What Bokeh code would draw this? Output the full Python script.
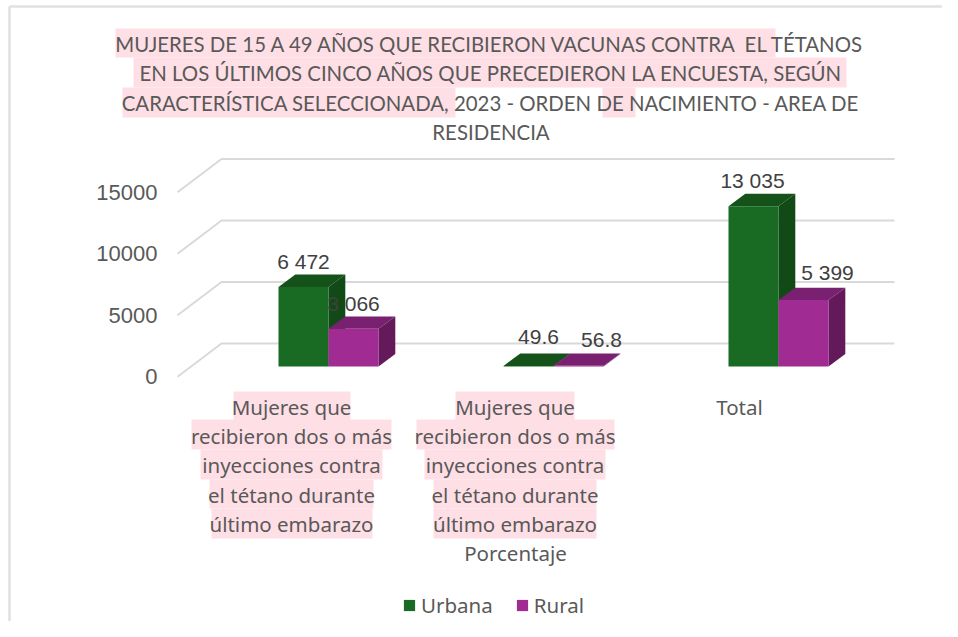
from bokeh.plotting import figure
from bokeh.embed import file_html
from bokeh.resources import INLINE
from bokeh.core.properties import value
from bokeh.models import Legend, LegendItem, LinearAxis, Range1d, FixedTicker

# ---- chart data
categories = ["Mujeres que recibieron dos o más inyecciones (casos)",
              "Mujeres que recibieron dos o más inyecciones (porcentaje)", "Total"]
urbana = [6472, 49.6, 13035]
rural = [3066, 56.8, 5399]
urbana_labels = ["6 472", "49.6", "13 035"]
rural_labels = ["3 066", "56.8", "5 399"]
y_ticks = [0, 5000, 10000, 15000]
title_lines = ["MUJERES DE 15 A 49 AÑOS QUE RECIBIERON VACUNAS CONTRA \u00a0EL TÉTANOS",
               "EN LOS ÚLTIMOS CINCO AÑOS QUE PRECEDIERON LA ENCUESTA, SEGÚN",
               "CARACTERÍSTICA SELECCIONADA, 2023 - ORDEN DE NACIMIENTO - AREA DE",
               "RESIDENCIA"]
cat_lines = ["Mujeres que", "recibieron dos o más", "inyecciones contra",
             "el tétano durante", "último embarazo"]

# ---- page geometry (layout only)
W, H = 942, 621
PX_PER_CAT, PX_PER_UNIT = 225.0, 0.0123
def X(px): return (px - 328.0) / PX_PER_CAT
def Y(py): return (366.0 - py) / PX_PER_UNIT
DX, DY = 16.8 / PX_PER_CAT, 12.4 / PX_PER_UNIT     # bar depth
BAR = 50.0 / PX_PER_CAT
GRID_Y = 23.0 / PX_PER_UNIT                        # back wall above bar floor
WALL_Y = -10.3 / PX_PER_UNIT                       # front edge below bar floor

GREEN, GREEN_TOP, GREEN_SIDE = "#196B24", "#145219", "#114A16"
PURPLE, PURPLE_TOP, PURPLE_SIDE = "#A02B93", "#7A2070", "#64195B"
GRID = "#D9D9D9"; TEXT = "#595959"; LABEL = "#404040"; PINK = "#FFDFE6"
SANS = "Noto Sans"; NARROW = "Lato"; ARIAL = "Liberation Sans"

p = figure(width=W, height=H, output_backend="svg", toolbar_location=None,
           x_range=Range1d(X(0), X(W)), y_range=Range1d(Y(H), Y(0)),
           x_axis_location=None, y_axis_location=None, min_border=0,
           outline_line_color=None, background_fill_color="white")
p.grid.visible = False

# chart area border (left and top)
p.multi_line([[X(9), X(9)], [X(9), X(W)]], [[Y(H), Y(6)], [Y(6), Y(6)]],
             line_color="#E0E0E0", line_width=2.5)

# highlight bands behind texts
def band(x0, x1, y0, y1):
    p.quad(left=[X(x0)], right=[X(x1)], top=[Y(y0)], bottom=[Y(y1)], fill_color=PINK, line_color=None)
for b in [(115, 775, 28, 57), (133, 846, 57, 87), (122, 455, 87, 117), (602, 635, 87, 117),
          (233, 350, 391, 420), (191, 391, 419, 449), (200, 382, 449, 479), (209, 373, 479, 508), (211, 372, 508, 538),
          (455, 574, 391, 420), (416, 614, 419, 449), (424, 605, 449, 479), (433, 596, 479, 508), (433, 596, 508, 538)]:
    band(*b)

# title
for line, py in zip(title_lines, [43, 72.5, 102, 131]):
    p.text([X(490.5)], [Y(py)], text=[line], text_align="center", text_baseline="middle",
           text_color=TEXT, text_font=value(NARROW), text_font_size="20.4px")

# gridlines in the 3D walls
left_front, left_back, right_end = X(177), X(221), X(894)
xs, ys = [], []
for t in y_ticks:
    xs.append([left_front, left_back, right_end])
    ys.append([t + WALL_Y, t + GRID_Y, t + GRID_Y])
p.multi_line(xs, ys, line_color=GRID, line_width=2)

# y axis sits on the front edge of the wall
p.extra_y_ranges["wall"] = Range1d(Y(H) - WALL_Y, Y(0) - WALL_Y)
axis = LinearAxis(y_range_name="wall", ticker=FixedTicker(ticks=y_ticks), fixed_location=X(177),
                  axis_line_color=None, major_tick_line_color=None, minor_tick_line_color=None,
                  major_label_text_font=ARIAL, major_label_text_font_size="22px",
                  major_label_text_color=TEXT, major_label_standoff=14)
axis.formatter.use_scientific = False
p.add_layout(axis, "left")

# bars
positions = list(range(len(categories)))
def bars(xc, vals, front, top, side):
    p.patches([[x - BAR/2, x + BAR/2, x + BAR/2 + DX, x - BAR/2 + DX] for x in xc],
              [[v, v, v + DY, v + DY] for v in vals], fill_color=top, line_color=None)
    p.patches([[x + BAR/2, x + BAR/2 + DX, x + BAR/2 + DX, x + BAR/2] for x in xc],
              [[0, DY, v + DY, v] for v in vals], fill_color=side, line_color=None)
    return p.vbar(x=xc, width=BAR, bottom=0, top=vals, fill_color=front, line_color=None)
r_u = bars([c - BAR/2 for c in positions], urbana, GREEN, GREEN_TOP, GREEN_SIDE)
r_r = bars([c + BAR/2 for c in positions], rural, PURPLE, PURPLE_TOP, PURPLE_SIDE)

# data labels
u_dx, u_dy = [0, 10, -1], [13, 16, 13.5]
r_dx, r_dy = [0, 23, 24], [13, 13, 15.5]
for pos_sign, vals, labs, dxs, dys in [(-1, urbana, urbana_labels, u_dx, u_dy), (1, rural, rural_labels, r_dx, r_dy)]:
    for c, v, lab, dx, dy in zip(positions, vals, labs, dxs, dys):
        p.text([c + pos_sign * BAR/2 + dx / PX_PER_CAT], [v + DY + dy / PX_PER_UNIT], text=[lab],
               text_align="center", text_baseline="middle", text_color=LABEL,
               text_font=value(ARIAL), text_font_size="21px")

# category labels
for cx in (291, 514.5):
    for line, py in zip(cat_lines, [406, 435, 464, 494, 523]):
        p.text([X(cx)], [Y(py)], text=[line], text_align="center", text_baseline="middle",
               text_color=TEXT, text_font=value(SANS), text_font_size="20.5px")
p.text([X(515)], [Y(552)], text=["Porcentaje"], text_align="center", text_baseline="middle",
       text_color=TEXT, text_font=value(SANS), text_font_size="20.5px")
p.text([X(739)], [Y(406)], text=["Total"], text_align="center", text_baseline="middle",
       text_color=TEXT, text_font=value(SANS), text_font_size="20.5px")

# legend
legend = Legend(items=[LegendItem(label="Urbana", renderers=[r_u]), LegendItem(label="Rural", renderers=[r_r])],
                orientation="horizontal", location=(402, 2), padding=0, margin=0, spacing=22,
                glyph_width=14, glyph_height=14, label_standoff=5,
                label_text_font=SANS, label_text_font_size="20.5px", label_text_color=TEXT,
                border_line_color=None, background_fill_alpha=0)
p.add_layout(legend)

open("out.html", "w").write(file_html(p, INLINE))
